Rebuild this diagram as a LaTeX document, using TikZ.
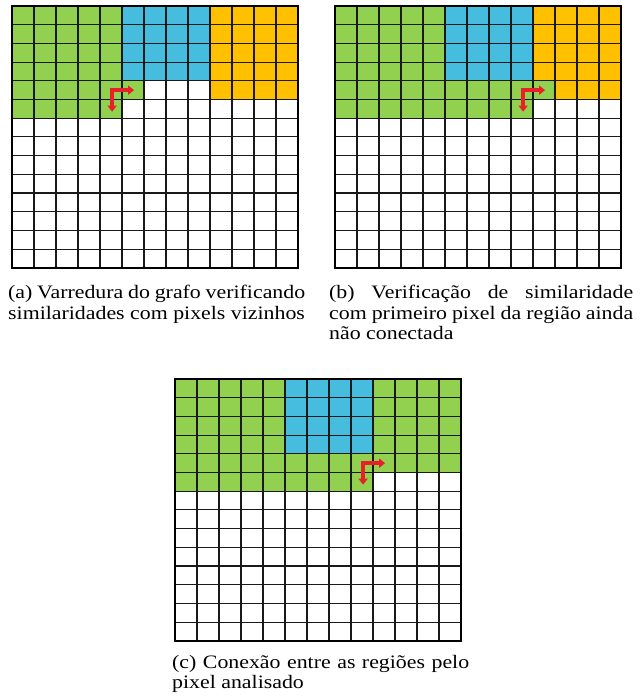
\documentclass[tikz,border=0pt]{standalone}
\usepackage{fontspec}
\setmainfont{Liberation Serif}[FakeStretch=1.15]
\usepackage{xcolor}
\usetikzlibrary{positioning,arrows.meta}
\definecolor{regiongreen}{HTML}{92D050}
\definecolor{regionblue}{HTML}{46BDDF}
\definecolor{regionorange}{HTML}{FFC000}
\definecolor{scanred}{HTML}{E82128}
\tikzstyle{pixelline}=[draw=black!90, line width=1.1pt]
\tikzstyle{gridframe}=[draw=black, line width=1.8pt]
\tikzstyle{scanarrow}=[draw=scanred, line width=3.8pt, {Triangle[width=9pt,length=6pt]}-{Triangle[width=9pt,length=6pt]}]
\tikzstyle{subcaption}=[text width=297pt, align=justify, inner sep=0pt, anchor=north west, font=\fontsize{19}{20.6}\selectfont]
\tikzset{pixelunits/.style={x=22pt, y=-18.7pt}}

\begin{document}
\begin{tikzpicture}[x=1pt, y=-1pt]
    \useasboundingbox (0,0) rectangle (644,698);

    % (a) regions before the scan reaches the blue/orange border
    \begin{scope}[xshift=12pt, yshift=-6pt, pixelunits]
        \fill[regiongreen] (0,0) rectangle (5,4);
        \fill[regiongreen] (0,4) rectangle (6,5);
        \fill[regiongreen] (0,5) rectangle (5,6);
        \fill[regionblue] (5,0) rectangle (9,4);
        \fill[regionorange] (9,0) rectangle (13,5);
    \end{scope}

    % (b)
    \begin{scope}[xshift=335pt, yshift=-6pt, pixelunits]
        \fill[regiongreen] (0,0) rectangle (5,4);
        \fill[regiongreen] (0,4) rectangle (10,5);
        \fill[regiongreen] (0,5) rectangle (9,6);
        \fill[regionblue] (5,0) rectangle (9,4);
        \fill[regionorange] (9,0) rectangle (13,4);
        \fill[regionorange] (10,4) rectangle (13,5);
    \end{scope}

    % (c) orange region merged into green
    \begin{scope}[xshift=175pt, yshift=-379pt, pixelunits]
        \fill[regiongreen] (0,0) rectangle (13,5);
        \fill[regiongreen] (0,5) rectangle (9,6);
        \fill[regionblue] (5,0) rectangle (9,4);
    \end{scope}

    \foreach \px/\py/\c in {12/6/4, 335/6/8, 175/379/8}{
        \begin{scope}[xshift=\px pt, yshift=-\py pt, pixelunits]
            \foreach \i in {1,...,12}
                \draw[pixelline] (\i,0) -- (\i,14);
            \foreach \j in {1,...,13}
                \draw[pixelline] (0,\j) -- (13,\j);
            \draw[gridframe] (0,0) rectangle (13,14);
            \draw[scanarrow] (\c+0.55,5.65) -- (\c+0.55,4.5) -- (\c+1.55,4.5);
        \end{scope}
    };

    \node (capA) [subcaption] at (8,285) {(a) Varredura do grafo verificando similaridades com pixels vizinhos};
    \node (capB) [subcaption, text width=304pt] at (329,285) {(b) Verificação de similaridade com primeiro pixel da região ainda não conectada};
    \node (capC) [subcaption] at (172,655) {(c) Conexão entre as regiões pelo pixel analisado};

\end{tikzpicture}
\end{document}
